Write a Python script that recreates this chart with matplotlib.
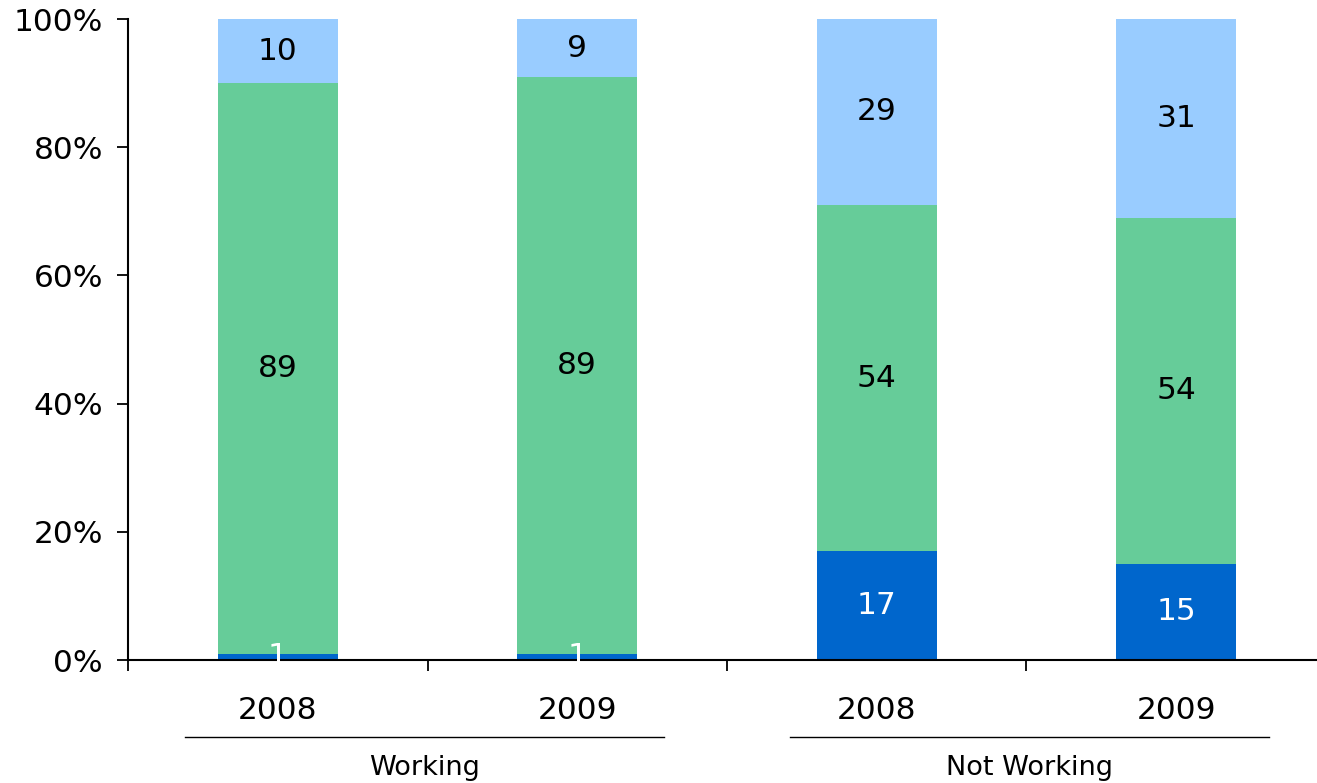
import numpy as np
import matplotlib.pyplot as plt

years = ['2008', '2009', '2008', '2009']
groups = ['Working', 'Not Working']
bottom_vals = [1, 1, 17, 15]
mid_vals = [89, 89, 54, 54]
top_vals = [10, 9, 29, 31]

c_bottom = '#0066CC'
c_mid = '#66CC99'
c_top = '#99CCFF'

plt.rcParams['font.family'] = 'DejaVu Sans'

fig = plt.figure(figsize=(13.17, 7.83), dpi=100)
ax = fig.add_axes([0.0972, 0.157, 0.9028, 0.8187])

b = np.array(bottom_vals, float)
m = np.array(mid_vals, float)
t = np.array(top_vals, float)
tot = b + m + t
bp, mp, tp = b / tot * 100, m / tot * 100, t / tot * 100

ind = np.arange(4)
width = 0.4
ax.bar(ind, bp, width, color=c_bottom)
ax.bar(ind, mp, width, bottom=bp, color=c_mid)
ax.bar(ind, tp, width, bottom=bp + mp, color=c_top)

fs = 22.5
for i in ind:
    ax.text(i, bp[i] / 2, str(bottom_vals[i]), ha='center', va='center',
            fontsize=fs, color='white')
    ax.text(i, bp[i] + mp[i] / 2, str(mid_vals[i]), ha='center', va='center',
            fontsize=fs, color='black')
    ax.text(i, bp[i] + mp[i] + tp[i] / 2, str(top_vals[i]), ha='center',
            va='center', fontsize=fs, color='black')

ax.set_xlim(-0.5, 3.47)
ax.set_ylim(0, 100)
ax.set_yticks(np.arange(0, 101, 20))
ax.set_yticklabels([f'{v}%' for v in range(0, 101, 20)], fontsize=fs)
ax.set_xticks([-0.5, 0.5, 1.5, 2.5])
ax.set_xticklabels([])
ax.tick_params(axis='both', direction='out', length=8, width=1.3, color='black')
ax.tick_params(axis='y', pad=10)

for s in ['top', 'right']:
    ax.spines[s].set_visible(False)
for s in ['left', 'bottom']:
    ax.spines[s].set_linewidth(1.5)
    ax.spines[s].set_color('black')

tr = ax.get_xaxis_transform()

# year labels
for i in ind:
    ax.text(i, -0.078, years[i], ha='center', va='center', fontsize=fs,
            transform=tr, clip_on=False)

# group lines and labels
for g, (x0, x1) in enumerate([(-0.31, 1.29), (1.71, 3.31)]):
    ax.plot([x0, x1], [-0.12, -0.12], color='black', lw=1,
            transform=tr, clip_on=False)
    ax.text((x0 + x1) / 2, -0.168, groups[g], ha='center', va='center',
            fontsize=19.5, transform=tr, clip_on=False)

fig.savefig('out.png', dpi=100)
